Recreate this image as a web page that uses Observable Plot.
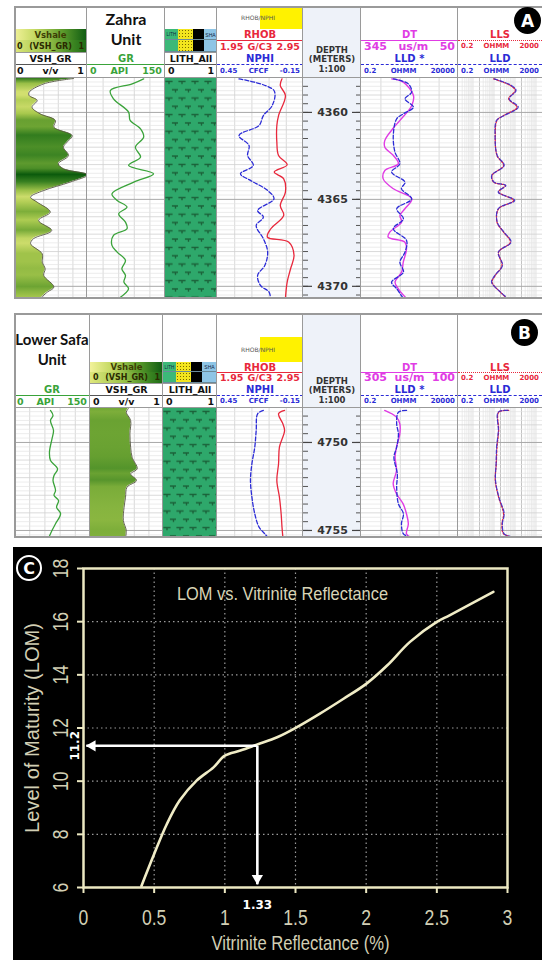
<!DOCTYPE html>
<html><head><meta charset="utf-8">
<script src="https://cdn.jsdelivr.net/npm/d3@7"></script>
<script src="https://cdn.jsdelivr.net/npm/@observablehq/plot@0.6"></script>
<style>
html,body{margin:0;padding:0;background:#fff;}
#root{position:relative;width:542px;height:960px;overflow:hidden;background:#fff;}
#root div{box-sizing:border-box;}
</style></head>
<body><div id="root"></div>
<script>
// ================= DATA =================
// Panel A – Zahra Unit  [depth (m), value]
const depthRangeA = [4358.05, 4370.70];
const depthLabelsA = [4360, 4365, 4370];
const vshA = [[4358.05,0.81],[4358.36,0.40],[4358.84,0.20],[4359.03,0.20],[4359.31,0.31],[4359.70,0.24],[4360.08,0.35],[4360.46,0.56],[4360.85,0.54],[4361.33,0.79],[4361.71,0.72],[4362.00,0.67],[4362.48,0.74],[4362.95,0.60],[4363.24,0.67],[4363.59,1.00],[4364.01,0.76],[4364.49,0.40],[4364.87,0.22],[4365.16,0.31],[4365.73,0.49],[4366.21,0.33],[4366.79,0.51],[4367.26,0.26],[4367.55,0.22],[4368.13,0.38],[4368.61,0.38],[4368.99,0.42],[4369.37,0.40],[4370.04,0.54],[4370.33,0.45],[4370.70,0.35]];
const grA = [[4358.07,108],[4358.36,86],[4358.74,44],[4359.22,50],[4359.98,79],[4360.46,82],[4360.94,102],[4361.42,108],[4362.00,92],[4362.57,102],[4363.05,79],[4363.53,127],[4364.01,89],[4364.68,47],[4365.06,57],[4365.44,76],[4365.83,60],[4366.31,73],[4366.69,76],[4367.07,50],[4367.65,47],[4368.03,57],[4368.51,73],[4368.99,66],[4369.37,73],[4369.76,70],[4370.14,79],[4370.70,60]];
const nphiA = [[4358.07,0.30],[4358.74,0.056],[4359.60,0.068],[4360.18,0.13],[4360.75,0.16],[4361.33,0.30],[4361.90,0.23],[4362.48,0.24],[4363.05,0.20],[4363.53,0.29],[4363.91,0.22],[4364.49,0.10],[4364.97,0.056],[4365.64,0.17],[4366.02,0.13],[4366.50,0.18],[4367.26,0.13],[4368.03,0.10],[4368.80,0.12],[4369.37,0.17],[4369.95,0.15],[4370.33,0.09],[4370.70,0.08]];
const rhobA = [[4358.07,2.70],[4358.45,2.68],[4359.03,2.74],[4360.18,2.66],[4360.75,2.64],[4361.71,2.64],[4362.48,2.66],[4363.01,2.76],[4363.43,2.61],[4363.82,2.72],[4364.58,2.74],[4365.35,2.68],[4365.92,2.72],[4366.69,2.57],[4367.17,2.53],[4367.46,2.78],[4368.22,2.84],[4368.99,2.80],[4369.76,2.76],[4370.70,2.74]];
const dtA = [[4358.07,253],[4358.26,218],[4359.03,187],[4359.60,192],[4360.46,228],[4360.94,250],[4361.61,274],[4362.00,274],[4362.48,248],[4362.95,233],[4363.34,274],[4363.82,279],[4364.39,248],[4364.97,192],[4365.54,213],[4365.92,228],[4366.31,223],[4366.88,259],[4367.17,264],[4367.46,213],[4367.84,208],[4368.61,218],[4369.18,223],[4369.76,243],[4370.14,233],[4370.70,208]];
const lldStarA = [[4358.07,8.7],[4358.36,52],[4358.84,77],[4359.22,35],[4359.70,94],[4360.08,29],[4360.37,13],[4361.33,8.7],[4362.28,10.6],[4362.95,19],[4363.43,7.1],[4364.01,35],[4364.39,23],[4364.97,77],[4365.54,13],[4366.12,29],[4366.69,8.7],[4367.36,42],[4368.03,35],[4368.61,19],[4369.18,29],[4369.76,7.1],[4370.14,13],[4370.70,29]];
const llsA = [[4358.07,9.4],[4358.45,59],[4358.74,102],[4359.22,49],[4359.70,123],[4360.18,28],[4360.46,13.6],[4361.33,11.3],[4362.48,13.6],[4363.05,28],[4363.62,7.9],[4364.01,9.4],[4364.20,34],[4364.58,16.3],[4365.06,85],[4365.54,16.3],[4366.31,13.6],[4366.88,28],[4367.46,59],[4368.03,16.3],[4368.80,23.6],[4369.37,11.3],[4369.76,7.9],[4370.33,19.6],[4370.70,41]];
const lldA = [[4358.07,10],[4358.45,66],[4358.74,110],[4359.22,52],[4359.70,140],[4360.18,30],[4360.46,13],[4361.33,11],[4362.48,14],[4363.05,30],[4363.62,7.6],[4364.01,9.8],[4364.20,36],[4364.58,15.5],[4365.06,95],[4365.54,15.5],[4366.31,14],[4366.88,29],[4367.46,64],[4368.03,15.8],[4368.80,25],[4369.37,10.8],[4369.76,7.5],[4370.33,20],[4370.70,45]];
const lithA = [{top: 4358.05, base: 4370.70, lith: "Shale"}];

// Panel B – Lower Safa Unit
const depthRangeB = [4748.07, 4755.40];
const depthLabelsB = [4750, 4755];
const grB = [[4748.18,71],[4748.47,76],[4748.75,71],[4749.32,77],[4749.79,74],[4750.55,69],[4751.02,71],[4751.50,85],[4751.88,78],[4752.16,76],[4752.73,81],[4753.01,78],[4753.30,87],[4753.68,83],[4754.05,91],[4754.62,81],[4755.00,74],[4755.38,68]];
const vshB = [[4748.07,0.52],[4748.28,0.49],[4748.75,0.55],[4749.51,0.54],[4750.27,0.55],[4750.84,0.57],[4751.50,0.64],[4751.78,0.55],[4752.16,0.63],[4752.54,0.50],[4753.11,0.48],[4753.68,0.46],[4754.43,0.45],[4755.00,0.49],[4755.40,0.48]];
const nphiB = [[4748.18,0.13],[4748.37,0.17],[4749.32,0.18],[4750.27,0.19],[4751.21,0.21],[4752.16,0.22],[4753.11,0.21],[4754.05,0.19],[4754.81,0.16],[4755.19,0.12],[4755.38,0.10]];
const rhobB = [[4748.18,2.73],[4748.37,2.66],[4748.94,2.71],[4749.32,2.73],[4750.27,2.67],[4751.21,2.66],[4752.16,2.64],[4753.11,2.67],[4754.05,2.69],[4754.81,2.70],[4755.38,2.71]];
const dtB = [[4748.18,256],[4748.56,231],[4748.94,224],[4749.51,224],[4750.27,231],[4750.84,234],[4751.59,231],[4752.35,238],[4752.92,231],[4753.49,217],[4754.05,210],[4754.62,206],[4755.19,210],[4755.38,202]];
const lldStarB = [[4748.18,42],[4748.28,16],[4748.94,13],[4749.51,16],[4750.27,13],[4750.84,9.4],[4751.78,14],[4752.54,13],[4753.49,16],[4754.05,29],[4754.62,23],[4755.19,29],[4755.38,63]];
const llsB = [[4748.18,49],[4748.28,16.3],[4749.32,16.3],[4750.27,13.6],[4751.21,12.6],[4752.16,11.3],[4753.11,16.3],[4754.05,28],[4754.62,23.6],[4755.19,28],[4755.38,85]];
const lldB = [[4748.18,45],[4748.28,15.5],[4749.32,15.8],[4750.27,13],[4751.21,12.3],[4752.16,11.6],[4753.11,16.8],[4754.05,30],[4754.62,24.5],[4755.19,30],[4755.38,80]];
const lithB = [{top: 4748.07, base: 4755.40, lith: "Shale"}];

// Track scales and grid tick values
const scaleVSH = [0, 1], gridVSH = [0.2, 0.4, 0.6, 0.8];
const scaleGR = [0, 150], gridGR = [30, 60, 90, 120];
const scaleNPHI = [0.45, -0.15], gridNPHI = [0.33, 0.21, 0.09, -0.03];
const scaleRHOB = [1.95, 2.95];
const scaleDTA = [345, 50], gridDTA = [286, 227, 168, 109];
const scaleDTB = [305, 100], gridDTB = [264, 223, 182, 141];
const scaleLLDstar = [0.2, 20000];
const scaleLLS = [0.2, 2000];

// Panel C – LOM vs Vitrinite Reflectance
const roC = [0.41, 0.50, 0.59, 0.68, 0.80, 0.92, 1.00, 1.11, 1.23, 1.37, 1.51, 1.67, 1.84, 2.00, 2.15, 2.31, 2.50, 2.59, 2.90];
const lomC = [6.06, 7.26, 8.39, 9.27, 10.02, 10.52, 10.96, 11.15, 11.38, 11.65, 12.03, 12.53, 13.10, 13.66, 14.36, 15.24, 15.99, 16.24, 17.12];
const xTicksC = [0, 0.5, 1, 1.5, 2, 2.5, 3];
const yTicksC = [6, 8, 10, 12, 14, 16, 18];
const xGridC = [0.5, 1, 1.5, 2, 2.5];
const yGridC = [8, 10, 12, 14, 16];
const readRo = 1.23, readLom = 11.33, arrowRoEnd = 0.02, arrowLomEnd = 6.12;
const readRoLabel = "1.33", readLomLabel = "11.2";
const titleC = "LOM vs. Vitrinite Reflectance";
const xLabelC = "Vitrinite Reflectance (%)";
const yLabelC = "Level of Maturity (LOM)";

// ================= HELPERS =================
const root = document.getElementById("root");
function box(x, y, w, h, css) {
  const d = document.createElement("div");
  d.style.cssText = `position:absolute;left:${x}px;top:${y}px;width:${w}px;height:${h}px;${css || ""}`;
  root.appendChild(d); return d;
}
function ctext(x, y, w, h, html, css) {
  const d = box(x, y, w, h, "display:flex;align-items:center;justify-content:center;white-space:nowrap;" + css);
  d.innerHTML = html; return d;
}
function three(x, y, w, h, parts, css) {
  const d = box(x, y, w, h, "display:flex;align-items:center;justify-content:space-between;padding:0 3px;white-space:nowrap;" + css);
  d.innerHTML = parts.map(p => `<span>${p}</span>`).join(""); return d;
}
function hline(x, y, w, css) { return box(x, y, w, 2, "border-top:" + css); }
function vline(x, y, h, css) { return box(x, y, 2, h, "border-left:" + css); }

const HF = "font-family:'DejaVu Sans',Verdana,sans-serif;font-weight:bold;";
const RED = "#e8283c", BLUE = "#2b2bd6", MAG = "#e03ce4", GREEN = "#3aa33a";
const curve = "catmull-rom";
const vshColor = d3.scaleLinear().domain([0.15, 0.35, 0.55, 0.75, 1]).range(["#dfe67a", "#a9c94e", "#6aa232", "#3a8222", "#0b5a0c"]).clamp(true);

function hGrid(dom) {
  const q = d3.range(Math.ceil(dom[0] * 4) / 4, dom[1], 0.25);
  return [
    Plot.ruleY(q.filter(v => v % 1 !== 0), {stroke: "#e4e4e4", strokeWidth: 0.7}),
    Plot.ruleY(q.filter(v => v % 1 === 0 && v % 5 !== 0), {stroke: "#d0d0d0", strokeWidth: 0.8}),
    Plot.ruleY(q.filter(v => v % 5 === 0), {stroke: "#a8a8a8", strokeWidth: 1})
  ];
}
function trackSvg(x0, x1, top, bottom, dom, xOpts, marks, bg) {
  const w = x1 - x0, h = bottom - top;
  const svg = Plot.plot({
    width: w, height: h, margin: 0,
    x: {...xOpts, axis: null},
    y: {domain: dom, reverse: true, axis: null},
    style: {background: bg || "transparent", overflow: "hidden"},
    marks
  });
  svg.style.position = "absolute"; svg.style.left = x0 + "px"; svg.style.top = top + "px";
  root.appendChild(svg);
  return svg;
}
const X = d => d[1], Y = d => d[0];

let uid = 0;
function drawTrack(kind, x0, x1, P) {
  const t = P.dataTop, b = P.dataBottom, dom = P.dom, w = x1 - x0, h = b - t;
  if (kind === "vsh") {
    const gid = "vshGrad" + (uid++);
    const svg = trackSvg(x0, x1, t, b, dom, {domain: scaleVSH}, [
      Plot.ruleX(gridVSH, {stroke: "#d0d0d0", strokeWidth: 0.8}),
      ...hGrid(dom),
      Plot.areaX(P.vsh, {y: Y, x1: 0, x2: X, fill: `url(#${gid})`, curve}),
      Plot.line(P.vsh, {x: X, y: Y, stroke: "#55553f", strokeWidth: 0.9, curve})
    ], "#fff");
    const ys = svg.scale("y");
    const g = d3.select(svg).insert("defs", ":first-child").append("linearGradient")
      .attr("id", gid).attr("gradientUnits", "userSpaceOnUse")
      .attr("x1", 0).attr("x2", 0).attr("y1", 0).attr("y2", h);
    P.vsh.forEach(([d, v]) => g.append("stop")
      .attr("offset", Math.max(0, Math.min(1, ys.apply(d) / h)))
      .attr("stop-color", vshColor(v)));
  } else if (kind === "gr") {
    trackSvg(x0, x1, t, b, dom, {domain: scaleGR}, [
      Plot.ruleX(gridGR, {stroke: "#d0d0d0", strokeWidth: 0.8}),
      ...hGrid(dom),
      Plot.line(P.gr, {x: X, y: Y, stroke: GREEN, strokeWidth: 1.3, curve})
    ], "#fff");
  } else if (kind === "lith") {
    const pid = "lithPat" + (uid++);
    const svg = trackSvg(x0, x1, t, b, dom, {domain: [0, 1]}, [
      Plot.rect(P.lith, {x1: 0, x2: 1, y1: "top", y2: "base", fill: "#2ea86b"}),
      Plot.rect(P.lith, {x1: 0, x2: 1, y1: "top", y2: "base", fill: `url(#${pid})`})
    ], "#fff");
    const pat = d3.select(svg).insert("defs", ":first-child").append("pattern")
      .attr("id", pid).attr("patternUnits", "userSpaceOnUse").attr("width", 13).attr("height", 16.6);
    const T = (cx, cy) => pat.append("path").attr("d", `M${cx - 3.6},${cy}H${cx + 3.6}M${cx},${cy}V${cy + 2.6}`)
      .attr("stroke", "#1b6139").attr("stroke-width", 1.4).attr("fill", "none");
    T(4, 3.5); T(10.5, 11.8);
  } else if (kind === "rhob") {
    trackSvg(x0, x1, t, b, dom, {domain: scaleNPHI}, [
      Plot.ruleX(gridNPHI, {stroke: "#d0d0d0", strokeWidth: 0.8}),
      ...hGrid(dom),
      Plot.line(P.nphi, {x: X, y: Y, stroke: BLUE, strokeWidth: 1.3, strokeDasharray: "4,2", curve})
    ], "#fff");
    trackSvg(x0, x1, t, b, dom, {domain: scaleRHOB}, [
      Plot.line(P.rhob, {x: X, y: Y, stroke: RED, strokeWidth: 1.3, curve})
    ]);
  } else if (kind === "depth") {
    const minor = d3.range(Math.ceil(dom[0] * 2) / 2, dom[1], 0.5);
    trackSvg(x0, x1, t, b, dom, {domain: [0, 1]}, [
      Plot.tickY(minor, {stroke: "#555", strokeWidth: 1, insetRight: w - 5}),
      Plot.tickY(minor, {stroke: "#555", strokeWidth: 1, insetLeft: w - 5}),
      Plot.tickY(P.depthLabels, {stroke: "#444", strokeWidth: 1.2, insetRight: w - 9}),
      Plot.tickY(P.depthLabels, {stroke: "#444", strokeWidth: 1.2, insetLeft: w - 9}),
      Plot.text(P.depthLabels, {y: d => d, text: d => String(d), frameAnchor: "middle", fontSize: 11, fontWeight: "bold", fill: "#333", fontFamily: "DejaVu Sans"})
    ]);
  } else if (kind === "dt") {
    trackSvg(x0, x1, t, b, dom, {domain: P.dtScale}, [
      Plot.ruleX(P.dtGrid, {stroke: "#d0d0d0", strokeWidth: 0.8}),
      ...hGrid(dom),
      Plot.line(P.dt, {x: X, y: Y, stroke: MAG, strokeWidth: 1.4, curve})
    ], "#fff");
    trackSvg(x0, x1, t, b, dom, {type: "log", domain: scaleLLDstar}, [
      Plot.line(P.lldStar, {x: X, y: Y, stroke: BLUE, strokeWidth: 1.3, strokeDasharray: "4,2", curve})
    ]);
  } else if (kind === "lls") {
    const minor = [], major = [2, 20, 200];
    for (let e = -1; e <= 3; e++) for (let k = 1; k <= 9; k++) {
      const v = +(k * 10 ** e).toPrecision(3);
      if (v > 0.2 && v < 2000 && !major.includes(v)) minor.push(v);
    }
    trackSvg(x0, x1, t, b, dom, {type: "log", domain: scaleLLS}, [
      Plot.ruleX(minor, {stroke: "#e6e6e6", strokeWidth: 0.8}),
      Plot.ruleX(major, {stroke: "#bcbcbc", strokeWidth: 0.9}),
      ...hGrid(dom),
      Plot.line(P.lls, {x: X, y: Y, stroke: RED, strokeWidth: 1.3, strokeDasharray: "2,1.5", curve}),
      Plot.line(P.lld, {x: X, y: Y, stroke: BLUE, strokeWidth: 1.2, strokeDasharray: "4,2", curve, strokeOpacity: 0.85})
    ], "#fff");
  }
}

function drawHeader(kind, x0, x1, P) {
  const [r0, r1, r2, r3, r4] = P.R, w = x1 - x0;
  if (kind === "vsh") {
    box(x0, r0, w, r1 - r0, "background:linear-gradient(to right,#f2f29a,#c2d860 30%,#5f9e2c 65%,#0d5a12)");
    ctext(x0, r0, w, r1 - r0, "Vshale", HF + "font-size:8.5px;color:#3d3d05");
    box(x0, r1, w, r2 - r1, "background:linear-gradient(to right,#dfe77c,#9cc44a 45%,#3e8722 80%,#1d6a16)");
    three(x0, r1, w, r2 - r1, ["0", "(VSH_GR)", "1"], HF + "font-size:8px;color:#2a2a00");
    hline(x0, r2, w, "1px solid #999");
    ctext(x0, r2, w, r3 - r2, "VSH_GR", HF + "font-size:9.5px;color:#111");
    hline(x0, r3, w, "1px solid #555");
    three(x0, r3, w, r4 - r3, ["0", "v/v", "1"], HF + "font-size:9.5px;color:#111");
  } else if (kind === "gr") {
    ctext(x0, r2, w, r3 - r2, "GR", HF + `font-size:10px;color:${GREEN}`);
    hline(x0, r3, w, `1.5px solid ${GREEN}`);
    three(x0, r3, w, r4 - r3, ["0", "API", "150"], HF + `font-size:9.5px;color:${GREEN}`);
  } else if (kind === "lith") {
    const cells = [[0, 13, "#3cb878"], [13, 28, "#f3e51e"], [28, 39, "#000"], [39, w, "#8ec5e6"]];
    [r0, r1].forEach((ry, i) => cells.forEach(([a, c, col]) => {
      const ext = col === "#f3e51e" ? "background-image:radial-gradient(#7a6a00 0.7px,transparent 0.9px);background-size:3px 3px;" : "";
      box(x0 + a, ry, c - a, (i ? r2 : r1) - ry, `background-color:${col};${ext}border-bottom:1px solid #6a8a9a`);
    }));
    ctext(x0, r0, 13, r1 - r0, "LITH", "font:4.5px sans-serif;color:#124");
    ctext(x0 + 39, r0, w - 39, r1 - r0, "SHA", "font:5px sans-serif;color:#124");
    hline(x0, r2, w, "1px solid #999");
    ctext(x0, r2, w, r3 - r2, "LITH_All", HF + "font-size:9.5px;color:#111");
    hline(x0, r3, w, "1px solid #555");
    three(x0, r3, w, r4 - r3, ["0", "", "1"], HF + "font-size:9.5px;color:#111");
  } else if (kind === "rhob") {
    box(x0 + 43, P.yellow[0], w - 43, P.yellow[1] - P.yellow[0], "background:#fff200");
    ctext(x0 + 15, P.yellow[0], 52, P.yellow[1] - P.yellow[0], "RHOB/NPHI", "font:6px 'DejaVu Sans',sans-serif;color:#555");
    ctext(x0, r0, w, r1 - r0, "RHOB", HF + `font-size:10px;color:${RED}`);
    hline(x0, r1, w, `1.5px solid ${RED}`);
    three(x0, r1, w, r2 - r1, ["1.95", "G/C3", "2.95"], HF + `font-size:9.5px;color:${RED}`);
    ctext(x0, r2, w, r3 - r2, "NPHI", HF + `font-size:10px;color:${BLUE}`);
    hline(x0, r3, w, `1.5px dashed ${BLUE}`);
    three(x0, r3, w, r4 - r3, ["0.45", "CFCF", "-0.15"], HF + `font-size:7px;color:${BLUE}`);
  } else if (kind === "depth") {
    const css = HF + "font-size:8.5px;color:#333;line-height:9px;";
    ctext(x0, r2 - 6.5, w, 9, "DEPTH", css);
    ctext(x0, r2 + 2.5, w, 9, "(METERS)", css);
    ctext(x0, r3 + 0.5, w, 9, "1:100", css);
  } else if (kind === "dt") {
    ctext(x0, r0, w, r1 - r0, "DT", HF + `font-size:10px;color:${MAG}`);
    hline(x0, r1, w, `1.5px solid ${MAG}`);
    three(x0, r1, w, r2 - r1, P.dtLabels, HF + `font-size:11px;color:${MAG}`);
    ctext(x0, r2, w, r3 - r2, "LLD *", HF + `font-size:10px;color:${BLUE}`);
    hline(x0, r3, w, `1.5px dashed ${BLUE}`);
    three(x0, r3, w, r4 - r3, ["0.2", "OHMM", "20000"], HF + `font-size:7px;color:${BLUE}`);
  } else if (kind === "lls") {
    ctext(x0, r0, w, r1 - r0, "LLS", HF + `font-size:10px;color:${RED}`);
    hline(x0, r1, w, `1.5px dotted ${RED}`);
    three(x0, r1, w, r2 - r1, ["0.2", "OHMM", "2000"], HF + `font-size:7px;color:${RED}`);
    ctext(x0, r2, w, r3 - r2, "LLD", HF + `font-size:10px;color:${BLUE}`);
    hline(x0, r3, w, `1.5px dashed ${BLUE}`);
    three(x0, r3, w, r4 - r3, ["0.2", "OHMM", "2000"], HF + `font-size:7px;color:${BLUE}`);
  }
}

function drawPanel(P) {
  const c = P.cols;
  box(c[4], P.boxTop, c[5] - c[4], P.boxBottom - P.boxTop, "background:#eef2f9");
  P.order.forEach((k, i) => drawTrack(k, c[i], c[i + 1], P));
  P.order.forEach((k, i) => drawHeader(k, c[i], c[i + 1], P));
  // title
  const ti = P.order.indexOf(P.titleTrack);
  const td = box(c[ti] - 4, P.titleTop, c[ti + 1] - c[ti] + 8, 42, `font:bold ${P.titleSize}px Lato,'Liberation Sans',sans-serif;color:#111;text-align:center;line-height:19.5px;white-space:nowrap;`);
  td.innerHTML = P.titleLines.join("<br>");
  // frame and separators
  box(c[0], P.boxTop, 560, P.boxBottom - P.boxTop, "border:2px solid #9a9a9a");
  for (let i = 1; i < c.length - 1; i++) vline(c[i] - 1, P.boxTop, P.boxBottom - P.boxTop, "1.5px solid #9a9a9a");
  hline(c[0], P.R[4], 560, "1.5px solid #9a9a9a");
  // panel letter
  ctext(P.letterXY[0] - 13, P.letterXY[1] - 13, 27, 27, P.letter, "background:#000;border-radius:50%;color:#fff;font:bold 17px 'DejaVu Sans',sans-serif;");
}

drawPanel({
  boxTop: 6, boxBottom: 299, R: [29, 40, 52, 64, 77], dataTop: 78, dataBottom: 298,
  cols: [14, 87, 165, 217, 303, 361, 458, 542], dom: depthRangeA,
  order: ["vsh", "gr", "lith", "rhob", "depth", "dt", "lls"],
  vsh: vshA, gr: grA, nphi: nphiA, rhob: rhobA, dt: dtA, lldStar: lldStarA, lls: llsA, lld: lldA, lith: lithA,
  depthLabels: depthLabelsA, dtScale: scaleDTA, dtGrid: gridDTA, dtLabels: ["345", "us/m", "50"],
  yellow: [6, 29], titleTrack: "gr", titleLines: ["Zahra", "Unit"], titleTop: 9, titleSize: 16,
  letter: "A", letterXY: [527, 20]
});
drawPanel({
  boxTop: 313, boxBottom: 538, R: [362, 372, 383, 395, 407], dataTop: 408, dataBottom: 537,
  cols: [14, 90, 163, 217, 303, 361, 458, 542], dom: depthRangeB,
  order: ["gr", "vsh", "lith", "rhob", "depth", "dt", "lls"],
  vsh: vshB, gr: grB, nphi: nphiB, rhob: rhobB, dt: dtB, lldStar: lldStarB, lls: llsB, lld: lldB, lith: lithB,
  depthLabels: depthLabelsB, dtScale: scaleDTB, dtGrid: gridDTB, dtLabels: ["305", "us/m", "100"],
  yellow: [337, 362], titleTrack: "gr", titleLines: ["Lower Safa", "Unit"], titleTop: 330, titleSize: 15,
  letter: "B", letterXY: [524, 332]
});

// ================= PANEL C =================
const lomData = roC.map((r, i) => ({ro: r, lom: lomC[i]}));
const CREAM = "#ece8c2", TXT = "#d2cfb4";
const mid = {textAnchor: "middle", lineAnchor: "middle"};
const chartC = Plot.plot({
  width: 529, height: 413,
  marginLeft: 70, marginRight: 35, marginTop: 21, marginBottom: 73,
  style: {background: "#000", color: TXT, fontFamily: "'Liberation Sans',Arial,sans-serif"},
  x: {domain: [0, 3], axis: null},
  y: {domain: [6, 18], axis: null},
  marks: [
    Plot.gridX(xGridC, {stroke: "#9a9a9a", strokeOpacity: 1, strokeWidth: 1.2, strokeDasharray: "1.5,3"}),
    Plot.gridY(yGridC, {stroke: "#9a9a9a", strokeOpacity: 1, strokeWidth: 1.2, strokeDasharray: "1.5,3"}),
    Plot.axisX(xTicksC, {tickSize: 6, tickFormat: () => "", stroke: CREAM, strokeWidth: 2, label: null}),
    Plot.axisY(yTicksC, {tickSize: 6, tickFormat: () => "", stroke: CREAM, strokeWidth: 2, label: null}),
    Plot.text(xTicksC, {x: d => d, text: d => String(d), frameAnchor: "bottom", dy: 30, fontSize: 22, fill: TXT, ...mid}),
    Plot.text(yTicksC, {y: d => d, text: d => String(d), frameAnchor: "left", dx: -23, rotate: -90, fontSize: 22, fill: TXT, ...mid}),
    Plot.frame({stroke: CREAM, strokeWidth: 2.5}),
    Plot.line(lomData, {x: "ro", y: "lom", stroke: "#f0ecc6", strokeWidth: 2.6, curve}),
    Plot.link([{x1: readRo, y1: readLom, x2: arrowRoEnd, y2: readLom}, {x1: readRo, y1: readLom, x2: readRo, y2: arrowLomEnd}],
      {x1: "x1", y1: "y1", x2: "x2", y2: "y2", stroke: "#fff", strokeWidth: 2.6}),
    Plot.dot([{x: arrowRoEnd, y: readLom}], {x: "x", y: "y", symbol: "triangle", rotate: -90, r: 4.2, fill: "#fff", stroke: "none", dx: 6}),
    Plot.dot([{x: readRo, y: arrowLomEnd}], {x: "x", y: "y", symbol: "triangle", rotate: 180, r: 4.2, fill: "#fff", stroke: "none", dy: -6}),
    Plot.text([readLomLabel], {y: readLom, text: d => d, frameAnchor: "left", dx: -8, rotate: -90, fontSize: 12, fontWeight: "bold", fill: "#fff", fontFamily: "'DejaVu Sans',sans-serif", ...mid}),
    Plot.text([readRoLabel], {x: readRo, text: d => d, frameAnchor: "bottom", dy: 18, fontSize: 12, fontWeight: "bold", fill: "#fff", fontFamily: "'DejaVu Sans',sans-serif", ...mid}),
    Plot.text([titleC], {text: d => d, frameAnchor: "top", dx: -13, dy: 25, fontSize: 19, fill: "#d8d4b6", ...mid}),
    Plot.text([xLabelC], {text: d => d, frameAnchor: "bottom", dx: 5, dy: 56, fontSize: 21, fill: TXT, ...mid}),
    Plot.text([yLabelC], {text: d => d, frameAnchor: "left", dx: -51, rotate: -90, fontSize: 20, fill: TXT, ...mid})
  ]
});
chartC.style.position = "absolute"; chartC.style.left = "13px"; chartC.style.top = "547px";
root.appendChild(chartC);
// condensed (Arial‑Narrow‑like) look for the chart texts
const fixedLen = {[titleC]: 211, [xLabelC]: 178, [yLabelC]: 210};
d3.select(chartC).selectAll("text").each(function () {
  const t = this.textContent;
  if (t === readRoLabel || t === readLomLabel || !t) return;
  const L = fixedLen[t] ?? this.getComputedTextLength() * 0.8;
  this.setAttribute("textLength", L);
  this.setAttribute("lengthAdjust", "spacingAndGlyphs");
});
ctext(16, 555, 26, 26, "C", "border:2px solid #fff;border-radius:50%;color:#fff;font:bold 16px 'DejaVu Sans',sans-serif;");
</script>
</body></html>
